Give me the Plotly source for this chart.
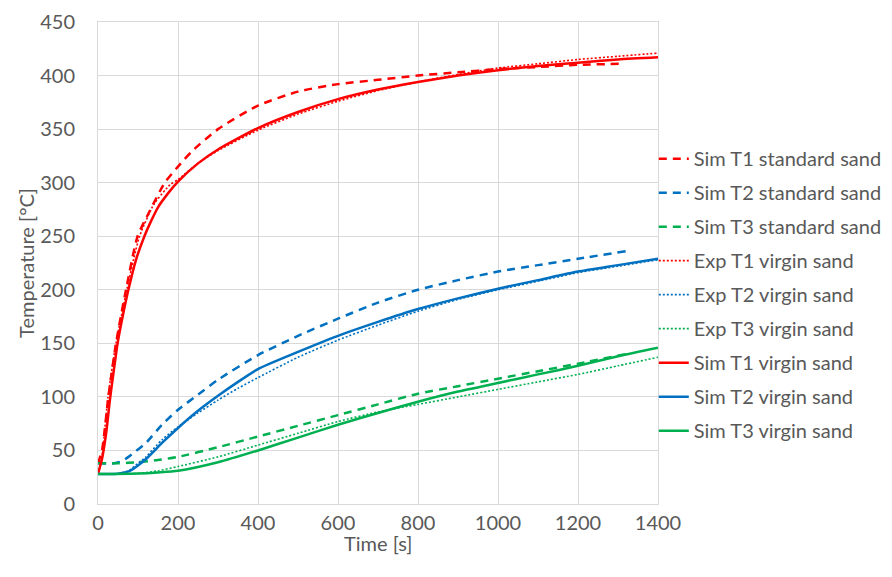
import plotly.graph_objects as go

# Time [s] / temperature [°C] samples for each series
t_sim_t1_std = [0, 10, 26, 45, 70, 99, 130, 167, 200, 234, 300, 400, 500, 600, 700, 800, 900, 1000, 1100, 1200, 1310]
v_sim_t1_std = [38, 50, 100, 150, 200, 250, 274, 300, 315, 329, 350, 372, 385, 392, 396, 400, 403, 406, 408, 410, 411]

t_sim_t2_std = [0, 40, 60, 80, 100, 120, 160, 200, 250, 300, 400, 500, 600, 700, 800, 900, 1000, 1100, 1200, 1320]
v_sim_t2_std = [38, 38, 40, 45, 51, 57, 74, 88, 102, 116, 139, 157, 173, 188, 200, 209, 217, 223, 229, 236]

t_sim_t3_std = [0, 50, 100, 150, 200, 300, 400, 500, 600, 700, 800, 900, 1000, 1100, 1200, 1320]
v_sim_t3_std = [38, 38, 39, 41, 44, 53, 63, 73, 83, 93, 103, 110, 117, 124, 131, 140]

t_exp_t1 = [0, 10, 25, 45, 72, 104, 140, 180, 200, 250, 300, 400, 500, 600, 700, 800, 900, 1000, 1100, 1200, 1300, 1400]
v_exp_t1 = [28, 45, 100, 150, 200, 250, 280, 298, 303, 318, 330, 349, 364, 376, 386, 394, 401, 407, 411, 415, 418, 421]

t_exp_t2 = [0, 40, 60, 80, 100, 120, 160, 200, 250, 300, 350, 400, 500, 600, 700, 800, 900, 1000, 1100, 1200, 1300, 1400]
v_exp_t2 = [28, 28, 29, 32, 38, 44, 60, 72, 85, 97, 108, 118, 137, 153, 167, 180, 191, 200, 208, 216, 222, 228]

t_exp_t3 = [0, 100, 150, 200, 300, 400, 500, 600, 700, 800, 900, 1000, 1100, 1200, 1300, 1400]
v_exp_t3 = [28, 28.5, 31, 35, 44, 55, 66, 77, 86, 93, 100, 107, 114, 121, 129, 137]

t_sim_t1_vir = [0, 10, 20, 30, 40, 49, 60, 76, 95, 116, 130, 150, 175, 200, 250, 300, 400, 500, 600, 700, 800, 900, 1000, 1100, 1200, 1300, 1400]
v_sim_t1_vir = [28, 42, 65, 98, 126, 150, 172, 200, 228, 250, 262, 277, 290, 301, 318, 331, 351, 366, 378, 387, 394, 400, 405, 409, 412, 415, 417]

t_sim_t2_vir = [0, 40, 60, 80, 100, 120, 160, 200, 250, 300, 350, 400, 500, 600, 700, 800, 900, 1000, 1100, 1200, 1300, 1400]
v_sim_t2_vir = [28, 28, 29, 31, 36, 42, 57, 71, 87, 101, 114, 126, 142, 157, 170, 182, 192, 201, 209, 217, 223, 229]

t_sim_t3_vir = [0, 100, 150, 200, 300, 400, 500, 600, 700, 800, 900, 1000, 1100, 1200, 1300, 1400]
v_sim_t3_vir = [28, 28.5, 29.5, 31, 39, 50, 62, 74, 85, 95.5, 105, 113, 121, 129, 138, 146]

RED = "#FF0000"
BLUE = "#0070C0"
GREEN = "#00B050"
TEXT = "#595959"
GRID = "#D9D9D9"

series = [
    ("Sim T1 standard sand", t_sim_t1_std, v_sim_t1_std, RED, "8px,6px", 2.5),
    ("Sim T2 standard sand", t_sim_t2_std, v_sim_t2_std, BLUE, "8px,6px", 2.5),
    ("Sim T3 standard sand", t_sim_t3_std, v_sim_t3_std, GREEN, "8px,6px", 2.5),
    ("Exp T1 virgin sand", t_exp_t1, v_exp_t1, RED, "2px,2px", 1.6),
    ("Exp T2 virgin sand", t_exp_t2, v_exp_t2, BLUE, "2px,2px", 1.6),
    ("Exp T3 virgin sand", t_exp_t3, v_exp_t3, GREEN, "2px,2px", 1.6),
    ("Sim T1 virgin sand", t_sim_t1_vir, v_sim_t1_vir, RED, "solid", 2.5),
    ("Sim T2 virgin sand", t_sim_t2_vir, v_sim_t2_vir, BLUE, "solid", 2.5),
    ("Sim T3 virgin sand", t_sim_t3_vir, v_sim_t3_vir, GREEN, "solid", 2.5),
]

fig = go.Figure()
for i, (name, t, v, color, dash, width) in enumerate(series):
    fig.add_trace(go.Scatter(
        x=t, y=v, name=name, mode="lines",
        line=dict(color=color, dash=dash, width=width, shape="spline", smoothing=0.6),
        legendgroup=f"g{i}",
    ))

font_family = "Lato, 'Open Sans', sans-serif"
FS = 20

fig.update_layout(
    width=892, height=577,
    margin=dict(l=98, r=234, t=22, b=73, autoexpand=False),
    paper_bgcolor="white", plot_bgcolor="white",
    font=dict(family=font_family, color=TEXT, size=FS),
    showlegend=True,
    legend=dict(
        x=0.9925, xanchor="left", y=0.757, yanchor="top",
        font=dict(size=FS, color=TEXT, family=font_family),
        tracegroupgap=5, bgcolor="rgba(0,0,0,0)",
        itemwidth=30,
    ),
    xaxis=dict(
        range=[0, 1400], dtick=200, tick0=0,
        showgrid=True, gridcolor=GRID, gridwidth=1,
        zeroline=False, showline=True, linecolor=GRID, mirror=True,
        ticks="", ticklabelstandoff=1,
        tickfont=dict(size=FS, color=TEXT),
    ),
    yaxis=dict(
        range=[0, 450], dtick=50, tick0=0,
        showgrid=True, gridcolor=GRID, gridwidth=1,
        zeroline=False, showline=True, linecolor=GRID, mirror=True,
        ticks="", ticklabelstandoff=18,
        title=dict(text="Temperature [°C]", font=dict(size=FS, color=TEXT), standoff=0),
        tickfont=dict(size=FS, color=TEXT),
    ),
    annotations=[
        dict(text="Time [s]", x=0.5, y=-0.081, xref="paper", yref="paper",
             xanchor="center", yanchor="middle", showarrow=False,
             font=dict(size=FS, color=TEXT, family=font_family)),
    ],
)

fig.write_html("out.html")
